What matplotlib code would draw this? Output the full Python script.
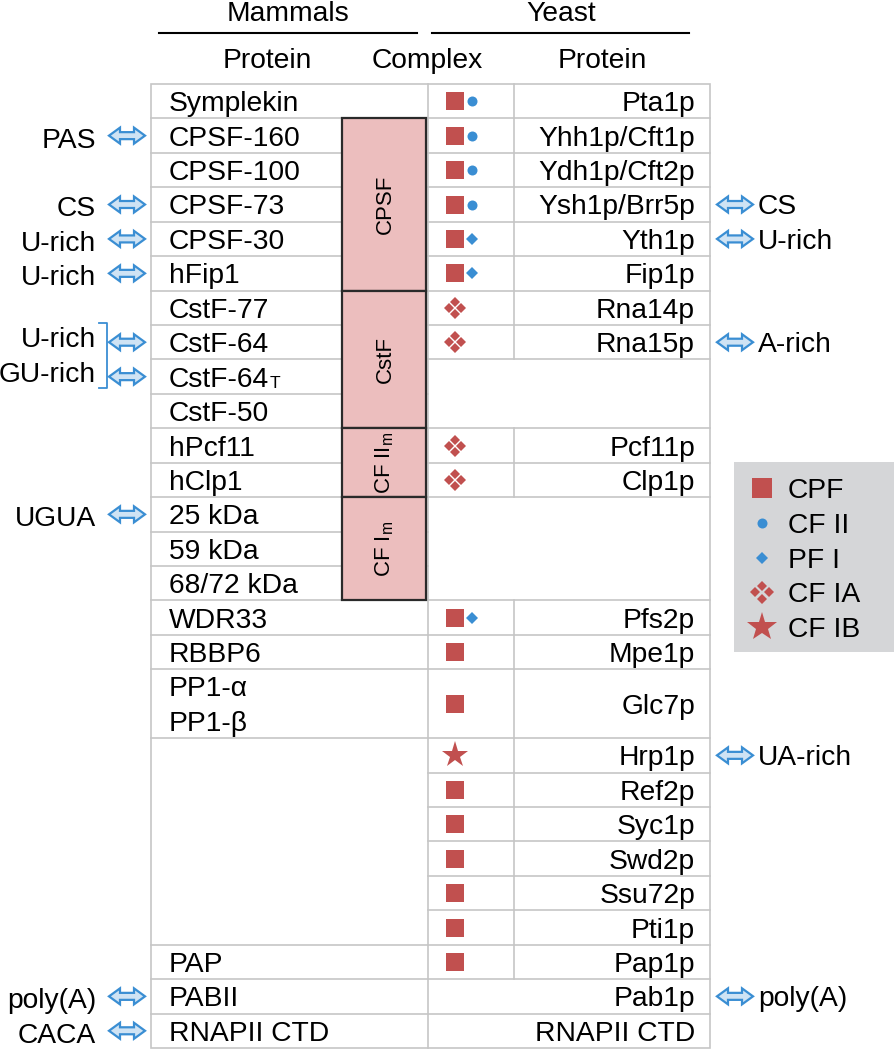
import matplotlib
matplotlib.use("Agg")
import matplotlib.pyplot as plt
from matplotlib.patches import Rectangle, Polygon

plt.rcParams['font.family'] = ['Liberation Sans', 'DejaVu Sans']
plt.rcParams['mathtext.fontset'] = 'custom'
plt.rcParams['mathtext.rm'] = 'Liberation Sans'
plt.rcParams['mathtext.it'] = 'Liberation Sans:italic'

# ---- data ----
mammal_proteins = ['Symplekin', 'CPSF-160', 'CPSF-100', 'CPSF-73', 'CPSF-30', 'hFip1',
                   'CstF-77', 'CstF-64', 'CstF-64|T', 'CstF-50', 'hPcf11', 'hClp1',
                   '25 kDa', '59 kDa', '68/72 kDa', 'WDR33', 'RBBP6', 'PP1-α\nPP1-β', '',
                   'PAP', 'PABII', 'RNAPII CTD']
mammal_spans = [1] * 17 + [2, 6, 1, 1, 1]

yeast_proteins = ['Pta1p', 'Yhh1p/Cft1p', 'Ydh1p/Cft2p', 'Ysh1p/Brr5p', 'Yth1p', 'Fip1p',
                  'Rna14p', 'Rna15p', '', 'Pcf11p', 'Clp1p', '', 'Pfs2p', 'Mpe1p', 'Glc7p',
                  'Hrp1p', 'Ref2p', 'Syc1p', 'Swd2p', 'Ssu72p', 'Pti1p', 'Pap1p', 'Pab1p',
                  'RNAPII CTD']
yeast_spans = [1] * 8 + [2, 1, 1, 3, 1, 1, 2] + [1] * 9
# S = CPF, C = CF II, D = PF I, A = CF IA, B = CF IB
yeast_complex = ['SC', 'SC', 'SC', 'SC', 'SD', 'SD', 'A', 'A', '', 'A', 'A', '',
                 'SD', 'S', 'S', 'B', 'S', 'S', 'S', 'S', 'S', 'S', '', '']

complex_names = ['CPSF', 'CstF', r'CF II$_\mathrm{m}$', r'CF I$_\mathrm{m}$']
complex_first_row = [1, 6, 10, 12]
complex_n_rows = [5, 4, 2, 3]

left_motifs = ['PAS', 'CS', 'U-rich', 'U-rich', 'U-rich', 'GU-rich', 'UGUA', 'poly(A)', 'CACA']
left_motif_rows = [1, 3, 4, 5, 7, 8, 12, 20, 21]
right_motifs = ['CS', 'U-rich', 'A-rich', 'UA-rich', 'poly(A)']
right_motif_rows = [3, 4, 7, 15, 22]

legend_codes = ['S', 'C', 'D', 'A', 'B']
legend_labels = ['CPF', 'CF II', 'PF I', 'CF IA', 'CF IB']

# ---- style ----
RED = '#c1504f'
BLUE = '#3a8ed3'
ARROW_FILL = '#cfe3f4'
PINK = '#ecbebe'
GRID = '#c6c6c6'
FS = 20.3

fig = plt.figure(figsize=(8.94, 10.5), dpi=100)
ax = fig.add_axes([0, 0, 1, 1])
ax.set_xlim(0, 894)
ax.set_ylim(1050, 0)
ax.axis('off')

top, bottom = 84, 1048
unit = (bottom - top) / 28
x_left, x_mid, x_div, x_right = 151, 428, 514, 710
x_cbox0, x_cbox1 = 342, 426


def row_edges(spans):
    edges = [0]
    for s in spans:
        edges.append(edges[-1] + s)
    return edges


m_edges = row_edges(mammal_spans)
y_edges = row_edges(yeast_spans)


def ypos(u):
    return top + u * unit


def double_arrow(x0, x1, yc):
    L, H, s = 11, 8, 3.5
    pts = [(x0, yc), (x0 + L, yc - H), (x0 + L, yc - s), (x1 - L, yc - s),
           (x1 - L, yc - H), (x1, yc), (x1 - L, yc + H), (x1 - L, yc + s),
           (x0 + L, yc + s), (x0 + L, yc + H)]
    ax.add_patch(Polygon(pts, closed=True, facecolor=ARROW_FILL, edgecolor=BLUE,
                         lw=1.6, joinstyle='miter', zorder=4))


def symbol(code, x, y, big=1.0):
    if code == 'S':
        ax.plot(x, y, 's', ms=13 * big, color=RED, mew=0, zorder=5)
    elif code == 'C':
        ax.plot(x, y, 'o', ms=7.2, color=BLUE, mew=0, zorder=5)
    elif code == 'D':
        ax.plot(x, y, 'D', ms=6.4 * big, color=BLUE, mew=0, zorder=5)
    elif code == 'A':
        d = 6.0 * big
        for dx, dy in [(0, -d), (-d, 0), (d, 0), (0, d)]:
            ax.plot(x + dx, y + dy, 'D', ms=5.0 * big, color=RED, mew=0, zorder=5)
    elif code == 'B':
        ax.plot(x, y, '*', ms=20 * big, color=RED, mew=0, zorder=5)


# headers
ax.text(288, 21, 'Mammals', fontsize=FS, ha='center', va='baseline')
ax.text(561, 21, 'Yeast', fontsize=FS, ha='center', va='baseline')
ax.plot([159, 417], [33, 33], color='black', lw=1.5)
ax.plot([432, 689], [33, 33], color='black', lw=1.5)
ax.text(267, 68, 'Protein', fontsize=FS, ha='center', va='baseline')
ax.text(427, 68, 'Complex', fontsize=FS, ha='center', va='baseline')
ax.text(602, 68, 'Protein', fontsize=FS, ha='center', va='baseline')

# table frame
ax.add_patch(Rectangle((x_left, top), x_right - x_left, bottom - top, fill=False,
                       edgecolor=GRID, lw=1.2, zorder=2))
ax.plot([x_mid, x_mid], [top, bottom], color=GRID, lw=1.2, zorder=2)

# mammal rows
for i, name in enumerate(mammal_proteins):
    u0, u1 = m_edges[i], m_edges[i + 1]
    if u0 > 0:
        ax.plot([x_left, x_mid], [ypos(u0), ypos(u0)], color=GRID, lw=1.2, zorder=2)
    lines = name.split('\n')
    for k, line in enumerate(lines):
        yb = ypos(u0 + k + 0.5) + 10
        if '|' in line:
            main, sub = line.split('|')
            t = ax.text(169, yb, main, fontsize=FS, ha='left', va='baseline')
            ax.annotate(sub, xy=(1, 0), xycoords=t, fontsize=FS * 0.62,
                        ha='left', va='bottom', xytext=(0.5, 1.5), textcoords='offset points')
        else:
            ax.text(169, yb, line, fontsize=FS, ha='left', va='baseline')

# complex boxes
for name, r0, n in zip(complex_names, complex_first_row, complex_n_rows):
    y0, y1 = ypos(m_edges[r0]), ypos(m_edges[r0 + n])
    ax.add_patch(Rectangle((x_cbox0, y0), x_cbox1 - x_cbox0, y1 - y0, facecolor=PINK,
                           edgecolor='#2a2a2a', lw=1.6, zorder=3))
    ax.text((x_cbox0 + x_cbox1) / 2 + 1, (y0 + y1) / 2, name, fontsize=16, rotation=90,
            ha='center', va='center', zorder=4)

# yeast rows
for i, name in enumerate(yeast_proteins):
    u0, u1 = y_edges[i], y_edges[i + 1]
    if u0 > 0:
        ax.plot([x_mid, x_right], [ypos(u0), ypos(u0)], color=GRID, lw=1.2, zorder=2)
    yc = ypos((u0 + u1) / 2)
    if name:
        ax.text(695, yc + 10, name, fontsize=FS, ha='right', va='baseline')
    code = yeast_complex[i]
    if code:
        ax.plot([x_div, x_div], [ypos(u0), ypos(u1)], color=GRID, lw=1.2, zorder=2)
        for c in code:
            if c in 'CD':
                symbol(c, 472, yc)
            else:
                symbol(c, 455, yc)

# motif arrows, mammals side
for label, r in zip(left_motifs, left_motif_rows):
    yc = ypos((m_edges[r] + m_edges[r + 1]) / 2)
    if r in (7, 8):
        ty = yc - 5
    else:
        ty = yc + 2
    double_arrow(109, 145, yc)
    ax.text(96, ty + 10, label, fontsize=FS, ha='right', va='baseline')

# bracket for CstF-64 / CstF-64T
ax.plot([99, 107, 107, 99], [323, 323, 388, 388], color=BLUE, lw=1.3)

# motif arrows, yeast side
for label, r in zip(right_motifs, right_motif_rows):
    yc = ypos((y_edges[r] + y_edges[r + 1]) / 2)
    double_arrow(717, 753, yc)
    ax.text(758, yc + 10, label, fontsize=FS, ha='left', va='baseline')

# legend
ax.add_patch(Rectangle((734, 462), 160, 190, facecolor='#d5d6d8', edgecolor='none', zorder=1))
for k, (code, label) in enumerate(zip(legend_codes, legend_labels)):
    y = 488 + k * 34.8
    symbol(code, 762, y, big=1.1 if code in 'SAB' else 1.0)
    ax.text(788, y + 10, label, fontsize=FS, ha='left', va='baseline')

fig.savefig('out.png', dpi=100)
